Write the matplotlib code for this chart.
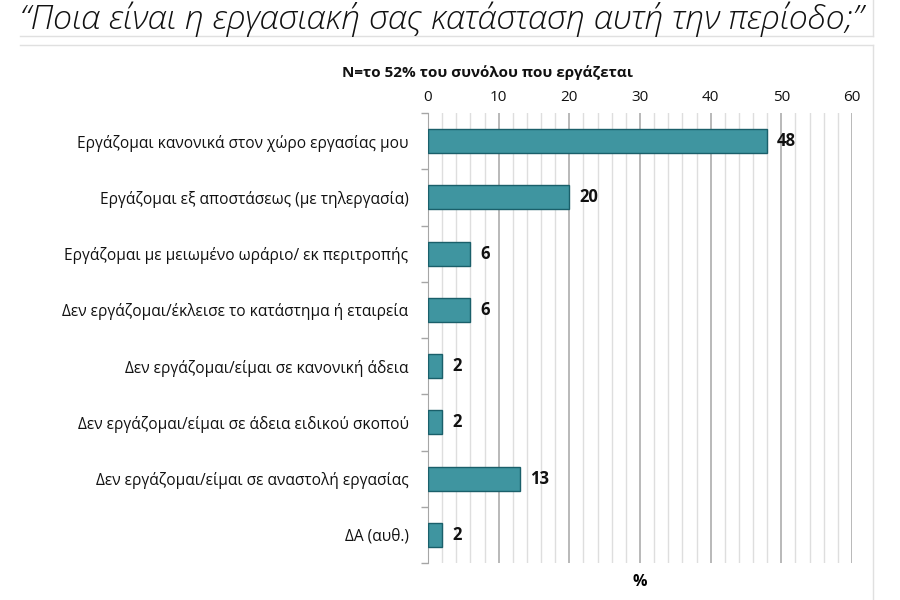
import matplotlib
matplotlib.use("Agg")
import matplotlib.pyplot as plt
from matplotlib.lines import Line2D
from matplotlib.ticker import MultipleLocator, FixedLocator
import numpy as np

categories = [
    "Εργάζομαι κανονικά στον χώρο εργασίας μου",
    "Εργάζομαι εξ αποστάσεως (με τηλεργασία)",
    "Εργάζομαι με μειωμένο ωράριο/ εκ περιτροπής",
    "Δεν εργάζομαι/έκλεισε το κατάστημα ή εταιρεία",
    "Δεν εργάζομαι/είμαι σε κανονική άδεια",
    "Δεν εργάζομαι/είμαι σε άδεια ειδικού σκοπού",
    "Δεν εργάζομαι/είμαι σε αναστολή εργασίας",
    "ΔΑ (αυθ.)",
]
values = [48, 20, 6, 6, 2, 2, 13, 2]
x_ticks = [0, 10, 20, 30, 40, 50, 60]

title = "“Ποια είναι η εργασιακή σας κατάσταση αυτή την περίοδο;”"
subtitle = "N=το 52% του συνόλου που εργάζεται"

plt.rcParams['font.family'] = ['Open Sans', 'DejaVu Sans']

fig = plt.figure(figsize=(9, 6), dpi=100)
ax = fig.add_axes([428/900, 1-563/600, (852-428)/900, (563-113)/600])

y = np.arange(len(categories))
ax.barh(y, values, height=0.43, color="#3f95a0", edgecolor="#1a5f6a", linewidth=1.0, zorder=3)
for yi, v in zip(y, values):
    ax.text(v + 1.4, yi, str(v), va="center", ha="left", fontsize=12, fontweight="bold", color="#111111")

ax.set_xlim(0, 60)
ax.set_ylim(len(categories) - 0.5, -0.5)
ax.xaxis.tick_top()
ax.xaxis.set_major_locator(FixedLocator(x_ticks))
ax.xaxis.set_minor_locator(MultipleLocator(2))
ax.tick_params(axis="x", which="both", length=0, pad=6, labelsize=11, labelcolor="#111111")
ax.grid(axis="x", which="major", color="#a6a6a6", linewidth=1.1, zorder=0)
ax.grid(axis="x", which="minor", color="#dedede", linewidth=1.0, zorder=0)

ax.set_yticks(y)
ax.set_yticklabels(categories, fontsize=11.2, color="#111111")
ax.yaxis.set_minor_locator(FixedLocator(np.arange(-0.5, len(categories), 1.0)))
ax.tick_params(axis="y", which="major", length=0, pad=14)
ax.tick_params(axis="y", which="minor", length=5, color="#a6a6a6", width=1)

for s in ["top", "right", "bottom"]:
    ax.spines[s].set_visible(False)
ax.spines["left"].set_color("#a6a6a6")

ax.set_xlabel("%", fontsize=11.5, fontweight="bold", labelpad=8)
ax.xaxis.set_label_position("bottom")

fig.text(20/900, 1-19/600, title, fontsize=24.5, style="italic", fontweight="light",
         ha="left", va="center", color="#111111")
fig.text(487/900, 1-73/600, subtitle, fontsize=11, fontweight="bold", ha="center", va="center", color="#111111")

lc = "#e0e0e0"
fig.add_artist(Line2D([20/900, 873/900], [1-36/600, 1-36/600], color=lc, lw=1))
fig.add_artist(Line2D([873/900, 873/900], [1-0/600, 1-36/600], color=lc, lw=1))
fig.add_artist(Line2D([20/900, 873/900], [1-45/600, 1-45/600], color=lc, lw=1))
fig.add_artist(Line2D([873/900, 873/900], [1-45/600, 0], color=lc, lw=1))

fig.savefig("out.png", dpi=100)
